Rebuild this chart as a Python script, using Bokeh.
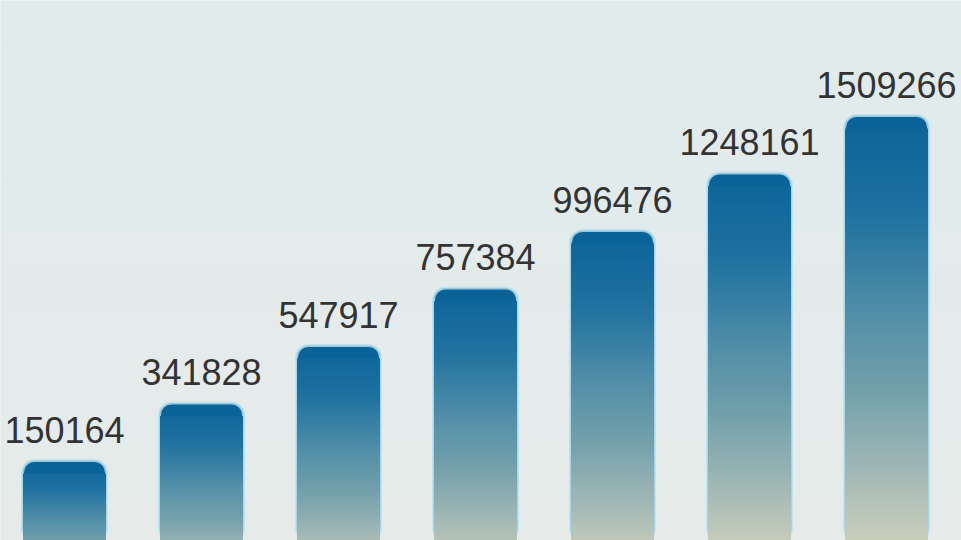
import numpy as np
from bokeh.plotting import figure
from bokeh.models import Range1d, ColumnDataSource, LabelSet
from bokeh.core.properties import value
from bokeh.embed import file_html
from bokeh.resources import INLINE

# ---- data ----
values = [150164, 341828, 547917, 757384, 996476, 1248161, 1509266]
bar_steps = [1, 2, 3, 4, 5, 6, 7]          # bars rise in equal steps in the picture
labels = [str(v) for v in values]
xs = list(range(len(values)))

# ---- styling ----
W, H = 961, 540
BAR_W = 0.613
BASE = -1.52                                # bars continue below the visible frame
stops_pos = [0.0, 0.2, 0.42, 0.56, 0.66, 0.76, 0.86, 1.0]
stops_col = ["#0a6398", "#1f72a0", "#5590a8", "#72a0aa", "#8eaeb2",
             "#abbdb6", "#c8cdbb", "#d8d4bc"]


def hex2rgb(h):
    h = h.lstrip("#")
    return [int(h[i:i + 2], 16) for i in (0, 2, 4)]


stops_rgb = np.array([hex2rgb(c) for c in stops_col], dtype=float)


def grad(f):
    r = np.interp(f, stops_pos, stops_rgb[:, 0])
    g = np.interp(f, stops_pos, stops_rgb[:, 1])
    b = np.interp(f, stops_pos, stops_rgb[:, 2])
    return "#%02x%02x%02x" % (int(round(r)), int(round(g)), int(round(b)))


x0, x1 = -0.467, 6.547
y0, y1 = -0.391, 9.0
p = figure(width=W, height=H, output_backend="svg", toolbar_location=None,
           x_range=Range1d(x0, x1), y_range=Range1d(y0, y1),
           x_axis_location=None, y_axis_location=None, min_border=0)
p.grid.visible = False
p.outline_line_color = None
p.background_fill_color = "#e1ecec"
p.border_fill_color = "#e1ecec"

# subtle background gradient
bg_top = np.array(hex2rgb("#e0ebec"), float)
bg_bot = np.array(hex2rgb("#e6ebe9"), float)
nb = 40
bl, br, bt, bb, bc = [], [], [], [], []
for k in range(nb):
    hi = y1 - (y1 - y0) * k / nb
    lo = y1 - (y1 - y0) * (k + 1.5) / nb
    f = (k + 0.5) / nb
    c = bg_top * (1 - f) + bg_bot * f
    bl.append(x0); br.append(x1); bt.append(hi); bb.append(lo)
    bc.append("#%02x%02x%02x" % tuple(int(round(v)) for v in c))
p.quad(left=bl, right=br, top=bt, bottom=bb, fill_color=bc, line_color=None)

src = ColumnDataSource(dict(x=xs, top=bar_steps, label=labels))

# glow + bar shape with rounded top
p.vbar(x="x", width=BAR_W, top="top", bottom=BASE, source=src,
       fill_color=stops_col[0], line_color="#b4e2f4", line_width=3, line_alpha=0.8,
       border_radius=12)

# gradient slices
px_per_unit = H / (y1 - y0)
rad = 13 / px_per_unit
step = 3 / px_per_unit
L, R, T, B, C = [], [], [], [], []
for xi, top in zip(xs, bar_steps):
    span = top - BASE
    hi = top - rad
    while hi > y0 - step:
        lo = hi - step * 1.7
        mid = hi - step / 2
        f = (top - mid) / span
        L.append(xi - BAR_W / 2 + 0.004)
        R.append(xi + BAR_W / 2 - 0.004)
        T.append(hi)
        B.append(max(lo, BASE))
        C.append(grad(f))
        hi -= step
p.quad(left=L, right=R, top=T, bottom=B, fill_color=C, line_color=None)

lbl = LabelSet(x="x", y="top", text="label", source=src, y_offset=18,
               text_align="center", text_baseline="alphabetic",
               text_font=value("Liberation Sans"), text_font_size="36px",
               text_color="#333333")
p.add_layout(lbl)

open("out.html", "w").write(file_html(p, INLINE))
